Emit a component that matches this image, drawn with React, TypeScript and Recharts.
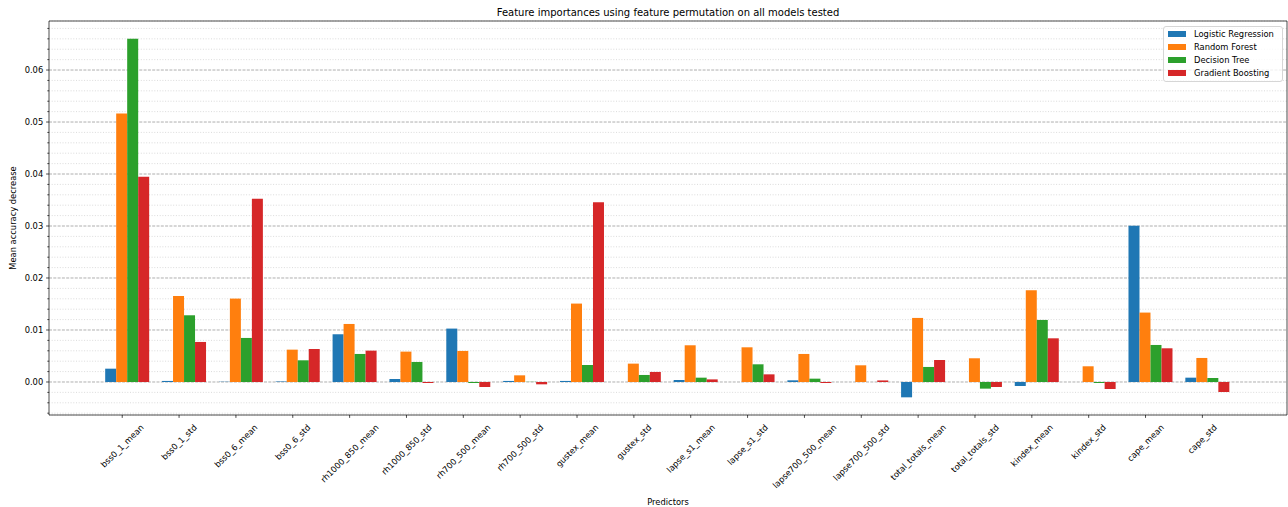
import React from "react";
import { BarChart, Bar, XAxis, YAxis, CartesianGrid, Legend, Label, ReferenceLine } from "recharts";

const predictors = [
  "bss0_1_mean", "bss0_1_std", "bss0_6_mean", "bss0_6_std", "rh1000_850_mean",
  "rh1000_850_std", "rh700_500_mean", "rh700_500_std", "gustex_mean", "gustex_std",
  "lapse_s1_mean", "lapse_s1_std", "lapse700_500_mean", "lapse700_500_std", "total_totals_mean",
  "total_totals_std", "kindex_mean", "kindex_std", "cape_mean", "cape_std",
];

const modelNames = ["Logistic Regression", "Random Forest", "Decision Tree", "Gradient Boosting"];

const logisticRegression = [
  0.00256, 0.0002, 0.00005, 0.0001, 0.00918, 0.00058, 0.01027, 0.0002, 0.0002, 0.0,
  0.00038, 0.0, 0.00032, 0.0, -0.00295, 0.0, -0.00077, 0.0, 0.03003, 0.00083,
];
const randomForest = [
  0.05165, 0.01655, 0.01604, 0.00622, 0.01116, 0.00584, 0.00597, 0.00128, 0.01508, 0.00353,
  0.00706, 0.00667, 0.00539, 0.00321, 0.01232, 0.00456, 0.01764, 0.00302, 0.01335, 0.00462,
];
const decisionTree = [
  0.066, 0.01283, 0.00847, 0.00417, 0.00539, 0.00385, -0.0002, 0.00003, 0.00327, 0.00135,
  0.00083, 0.0034, 0.00064, 0.0, 0.00289, -0.00128, 0.01193, -0.0002, 0.00712, 0.00077,
];
const gradientBoosting = [
  0.03946, 0.0077, 0.03523, 0.00635, 0.00603, -0.0002, -0.00096, -0.00045, 0.03459, 0.00193,
  0.0005, 0.00147, -0.0002, 0.0003, 0.00423, -0.00096, 0.0084, -0.00135, 0.00648, -0.00193,
];

// major ticks every 0.01, minor every 0.002
const yTicks = [
  -0.006, -0.004, -0.002, 0.0, 0.002, 0.004, 0.006, 0.008, 0.01, 0.012, 0.014, 0.016, 0.018,
  0.02, 0.022, 0.024, 0.026, 0.028, 0.03, 0.032, 0.034, 0.036, 0.038, 0.04, 0.042, 0.044,
  0.046, 0.048, 0.05, 0.052, 0.054, 0.056, 0.058, 0.06, 0.062, 0.064, 0.066, 0.068,
];
const yDomain = [-0.00635, 0.06943];

const data = predictors.map((p, i) => ({
  predictor: p,
  lr: logisticRegression[i],
  rf: randomForest[i],
  dt: decisionTree[i],
  gb: gradientBoosting[i],
}));

const FONT = "'DejaVu Sans', sans-serif";
const TICK_FONT = 8.33;
const TICK_SHIFT = 5.7; // matplotlib ticks sit 0.1 band left of the group centre

const isMajor = (v: number) => Math.abs(v * 100 - Math.round(v * 100)) < 1e-6;

let ctx: CanvasRenderingContext2D | null = null;
const measure = (s: string, size: number) => {
  if (!ctx) ctx = document.createElement("canvas").getContext("2d");
  if (!ctx) return s.length * size * 0.6;
  ctx.font = `${size}px 'DejaVu Sans'`;
  return ctx.measureText(s).width;
};

const YTick = (props: any) => {
  const { x, y, payload } = props;
  const v = payload.value;
  const major = isMajor(v);
  return (
    <g>
      <line x1={x} x2={x - (major ? 2.9 : 1.7)} y1={y} y2={y} stroke="#000" strokeWidth={0.7} />
      {major && (
        <text x={x - 5.8} y={y} dy="0.35em" textAnchor="end" fontSize={TICK_FONT} fontFamily={FONT} fill="#000">
          {v.toFixed(2)}
        </text>
      )}
    </g>
  );
};

const XTick = (props: any) => {
  const { x, y, payload } = props;
  const tx = x - TICK_SHIFT;
  const label = String(payload.value);
  const L = measure(label, TICK_FONT);
  const ax = tx + L * 0.3536;
  const ay = y + 8 + TICK_FONT * 0.3536;
  return (
    <g>
      <line x1={tx} x2={tx} y1={y} y2={y + 2.9} stroke="#000" strokeWidth={0.7} />
      <text
        x={ax}
        y={ay}
        textAnchor="end"
        dominantBaseline="central"
        transform={`rotate(-45 ${ax} ${ay})`}
        fontSize={TICK_FONT}
        fontFamily={FONT}
        fill="#000"
      >
        {label}
      </text>
    </g>
  );
};

const gridLine = (props: any) => {
  const v = yTicks[props.index];
  const major = v !== undefined && isMajor(v);
  return (
    <line
      key={`g-${props.index}`}
      x1={props.x1}
      x2={props.x2}
      y1={props.y1}
      y2={props.y2}
      stroke={major ? "#9a9a9a" : "#d2d2d2"}
      strokeWidth={0.8}
      strokeDasharray={major ? "3 1.3" : "1 1.7"}
    />
  );
};

const LegendBox = (props: any) => {
  const payload = [...(props.payload || [])].sort(
    (a: any, b: any) => modelNames.indexOf(a.value) - modelNames.indexOf(b.value)
  );
  return (
    <div
      style={{
        border: "1px solid #d6d6d6",
        borderRadius: 3,
        background: "rgba(255,255,255,0.8)",
        padding: "1px 4px",
        width: 120,
        boxSizing: "border-box",
        fontFamily: FONT,
        fontSize: TICK_FONT,
        color: "#000",
      }}
    >
      {payload.map((e: any) => (
        <div key={e.value} style={{ display: "flex", alignItems: "center", height: 13 }}>
          <span style={{ width: 18, height: 6, background: e.color, marginRight: 8, flex: "none" }} />
          <span style={{ whiteSpace: "nowrap" }}>{e.value}</span>
        </div>
      ))}
    </div>
  );
};

export default function App() {
  return (
    <div style={{ position: "absolute", left: 0, top: 0, background: "#fff" }}>
      <BarChart
        width={1288}
        height={507}
        data={data}
        margin={{ top: 21, right: 0, bottom: 0, left: 0 }}
        barCategoryGap="10%"
        barGap={0}
      >
        <CartesianGrid vertical={false} horizontal={gridLine} />
        <XAxis
          dataKey="predictor"
          height={92}
          interval={0}
          padding={{ left: 50.5, right: 50.5 }}
          tickSize={0}
          tickMargin={0}
          tickLine={false}
          tick={<XTick />}
          axisLine={{ stroke: "#000", strokeWidth: 0.7 }}
        >
          <Label
            content={(p: any) => (
              <g>
                <text x={p.viewBox.x + p.viewBox.width / 2} y={p.viewBox.y + 89.5} textAnchor="middle" fontSize={TICK_FONT} fontFamily={FONT} fill="#000">
                  Predictors
                </text>
                <text x={p.viewBox.x + p.viewBox.width / 2} y={16} textAnchor="middle" fontSize={10} fontFamily={FONT} fill="#000">
                  Feature importances using feature permutation on all models tested
                </text>
              </g>
            )}
          />
        </XAxis>
        <YAxis
          type="number"
          width={49}
          domain={yDomain}
          ticks={yTicks}
          interval={0}
          allowDataOverflow
          tickSize={0}
          tickMargin={0}
          tickLine={false}
          tick={<YTick />}
          axisLine={{ stroke: "#000", strokeWidth: 0.7 }}
        >
          <Label
            content={(p: any) => {
              const cx = 16;
              const cy = p.viewBox.y + p.viewBox.height / 2;
              return (
                <text x={cx} y={cy} textAnchor="middle" transform={`rotate(-90 ${cx} ${cy})`} fontSize={TICK_FONT} fontFamily={FONT} fill="#000">
                  Mean accuracy decrease
                </text>
              );
            }}
          />
        </YAxis>
        <YAxis
          yAxisId="right"
          orientation="right"
          type="number"
          width={1}
          domain={yDomain}
          allowDataOverflow
          tick={false}
          tickLine={false}
          axisLine={{ stroke: "#000", strokeWidth: 0.7 }}
        />
        <Legend
          layout="vertical"
          align="center"
          verticalAlign="middle"
          content={<LegendBox />}
          wrapperStyle={{ top: 25.5, left: 1163, width: 120, right: "auto", bottom: "auto" }}
        />
        <Bar dataKey="lr" name="Logistic Regression" fill="#1f77b4" isAnimationActive={false} />
        <Bar dataKey="rf" name="Random Forest" fill="#ff7f0e" isAnimationActive={false} />
        <Bar dataKey="dt" name="Decision Tree" fill="#2ca02c" isAnimationActive={false} />
        <Bar dataKey="gb" name="Gradient Boosting" fill="#d62728" isAnimationActive={false} />
        <ReferenceLine y={yDomain[1]} stroke="#000" strokeWidth={0.7} ifOverflow="visible" />
      </BarChart>
    </div>
  );
}
